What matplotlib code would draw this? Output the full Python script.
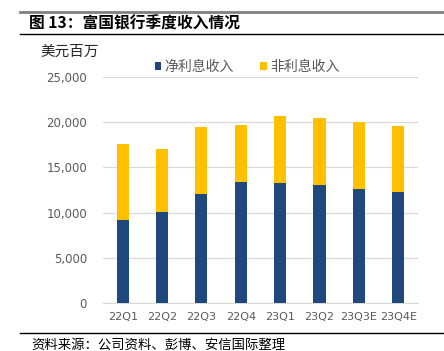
import numpy as np
import matplotlib.pyplot as plt
from matplotlib.lines import Line2D

plt.rcParams['font.family'] = ['Noto Sans CJK SC', 'DejaVu Sans']

quarters = ['22Q1', '22Q2', '22Q3', '22Q4', '23Q1', '23Q2', '23Q3E', '23Q4E']
net_interest = [9200, 10100, 12050, 13420, 13300, 13080, 12640, 12310]
non_interest = [8400, 6900, 7430, 6240, 7400, 7430, 7390, 7310]
yticks = [0, 5000, 10000, 15000, 20000, 25000]

blue = '#1F497D'
yellow = '#FFC000'
gray = '#595959'

fig = plt.figure(figsize=(4.44, 3.51), dpi=100)
ax = fig.add_axes([0.232, 0.1376, 0.709, 0.6424])

x = np.arange(len(quarters))
ax.bar(x, net_interest, width=0.31, color=blue, label='净利息收入', zorder=3)
ax.bar(x, non_interest, width=0.31, bottom=net_interest, color=yellow,
       label='非利息收入', zorder=3)

ax.set_xlim(-0.5, len(quarters) - 0.5)
ax.set_ylim(0, 25000)
ax.set_yticks(yticks)
ax.set_yticklabels([f'{v:,}' for v in yticks], family='DejaVu Sans', fontsize=8.5)
ax.set_xticks(x)
ax.set_xticklabels(quarters, family='DejaVu Sans', fontsize=8)
ax.tick_params(axis='both', length=0, colors=gray)
ax.tick_params(axis='y', pad=11.5)
ax.tick_params(axis='x', pad=7)
ax.grid(axis='y', color='#D9D9D9', linewidth=0.9, zorder=0)
for s in ['top', 'right', 'left']:
    ax.spines[s].set_visible(False)
ax.spines['bottom'].set_color('#D9D9D9')
ax.spines['bottom'].set_linewidth(0.9)

fig.legend(*ax.get_legend_handles_labels(), loc='center left',
           bbox_to_anchor=(0.349, 0.809), bbox_transform=fig.transFigure,
           ncol=2, frameon=False, fontsize=10, handlelength=0.45,
           handleheight=0.45, handletextpad=0.25, columnspacing=1.9,
           labelcolor=gray, borderpad=0, borderaxespad=0)

fig.text(0.09, 0.852, '美元百万', fontsize=10.5, color='#262626', va='center')

# header / footer
fig.add_artist(Line2D([0.045, 1.0], [0.966, 0.966], color='#808080', lw=2))
fig.add_artist(Line2D([0.045, 1.0], [0.903, 0.903], color='black', lw=1))
fig.add_artist(Line2D([0.045, 1.0], [0.051, 0.051], color='black', lw=1))
fig.text(0.065, 0.932, '图 13：富国银行季度收入情况', fontsize=11.3, fontweight='bold',
         va='center', color='black')
fig.text(0.07, 0.017, '资料来源：公司资料、彭博、安信国际整理', fontsize=9.6,
         style='italic', va='center', color='black')

fig.savefig('out.png', dpi=100)
